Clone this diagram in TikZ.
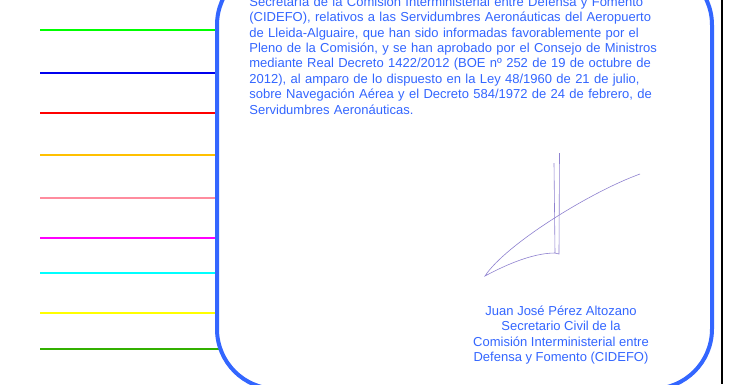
\documentclass[tikz,border=0pt]{standalone}
\usepackage{fontspec}
\setmainfont{Liberation Sans}
\usetikzlibrary{backgrounds}
\definecolor{panelblue}{HTML}{3366FF}
\definecolor{inkpurple}{HTML}{8F82D0}
\definecolor{lime}{HTML}{00FF00}
\definecolor{amber}{HTML}{FFC000}
\definecolor{rosa}{HTML}{FF8C9E}
\definecolor{fuchsia}{HTML}{FF00FF}
\definecolor{aqua}{HTML}{00FFFF}
\definecolor{lemon}{HTML}{FFFF00}
\definecolor{dkgreen}{HTML}{33B000}
\definecolor{deepblue}{HTML}{0000EE}
\definecolor{pure red}{HTML}{FF0000}
\newcommand{\jline}[1]{\makebox[421pt][s]{#1}\\}
\begin{document}
\begin{tikzpicture}[x=1pt, y=-1pt, thick,
  servline/.style={line width=2.2pt},
  panel/.style={draw=panelblue, fill=white, line width=4pt, rounded corners=60pt, minimum width=495pt, minimum height=424pt, inner sep=0pt},
  txt/.style={text=panelblue, font=\fontsize{13}{15.4}\selectfont, inner sep=0pt},
  sign/.style={draw=inkpurple, line width=0.6pt}]
  \useasboundingbox (0,0) rectangle (732,384);
  \clip (0,0) rectangle (732,384);
  \node[panel] (box) at (464.5,177) {};
  \begin{scope}[on background layer]
    \foreach \y/\c [count=\i] in {30/lime, 73.3/deepblue, 113.3/pure red, 154.7/amber, 198.3/rosa, 238.3/fuchsia, 273/aqua, 313.3/lemon, 348.7/dkgreen}
    {
      \coordinate (s\i) at (40,\y);
      \draw[servline, \c] (s\i) -- (s\i -| box.center);
    }
  \end{scope}
  \node[txt, text width=421pt, anchor=north west] (decl) at (249,-4.8) {\noindent
    \jline{\strut Secretaría de la Comisión Interministerial entre Defensa y Fomento}
    \jline{(CIDEFO), relativos a las Servidumbres Aeronáuticas del Aeropuerto}
    \jline{de Lleida-Alguaire, que han sido informadas favorablemente por el}
    \jline{Pleno de la Comisión, y se han aprobado por el Consejo de Ministros}
    \jline{mediante Real Decreto 1422/2012 (BOE nº 252 de 19 de octubre de}
    \jline{2012), al amparo de lo dispuesto en la Ley 48/1960 de 21 de julio,}
    \jline{sobre Navegación Aérea y el Decreto 584/1972 de 24 de febrero, de}
    Servidumbres Aeronáuticas.};
  \node[txt, align=center, anchor=north] (signer) at (561,304.2) {\strut Juan José Pérez Altozano\\Secretario Civil de la\\Comisión Interministerial entre\\Defensa y Fomento (CIDEFO)};
  \draw[sign] (640,174) .. controls (590,192) and (505,245) .. (485,276) .. controls (500,268) and (530,253) .. (555,253) -- (554,163);
  \draw[sign] (559.5,153) -- (559,254) -- (555,253);
  \draw[line width=1.5pt] (722,0) -- (722,384);
\end{tikzpicture}
\end{document}
